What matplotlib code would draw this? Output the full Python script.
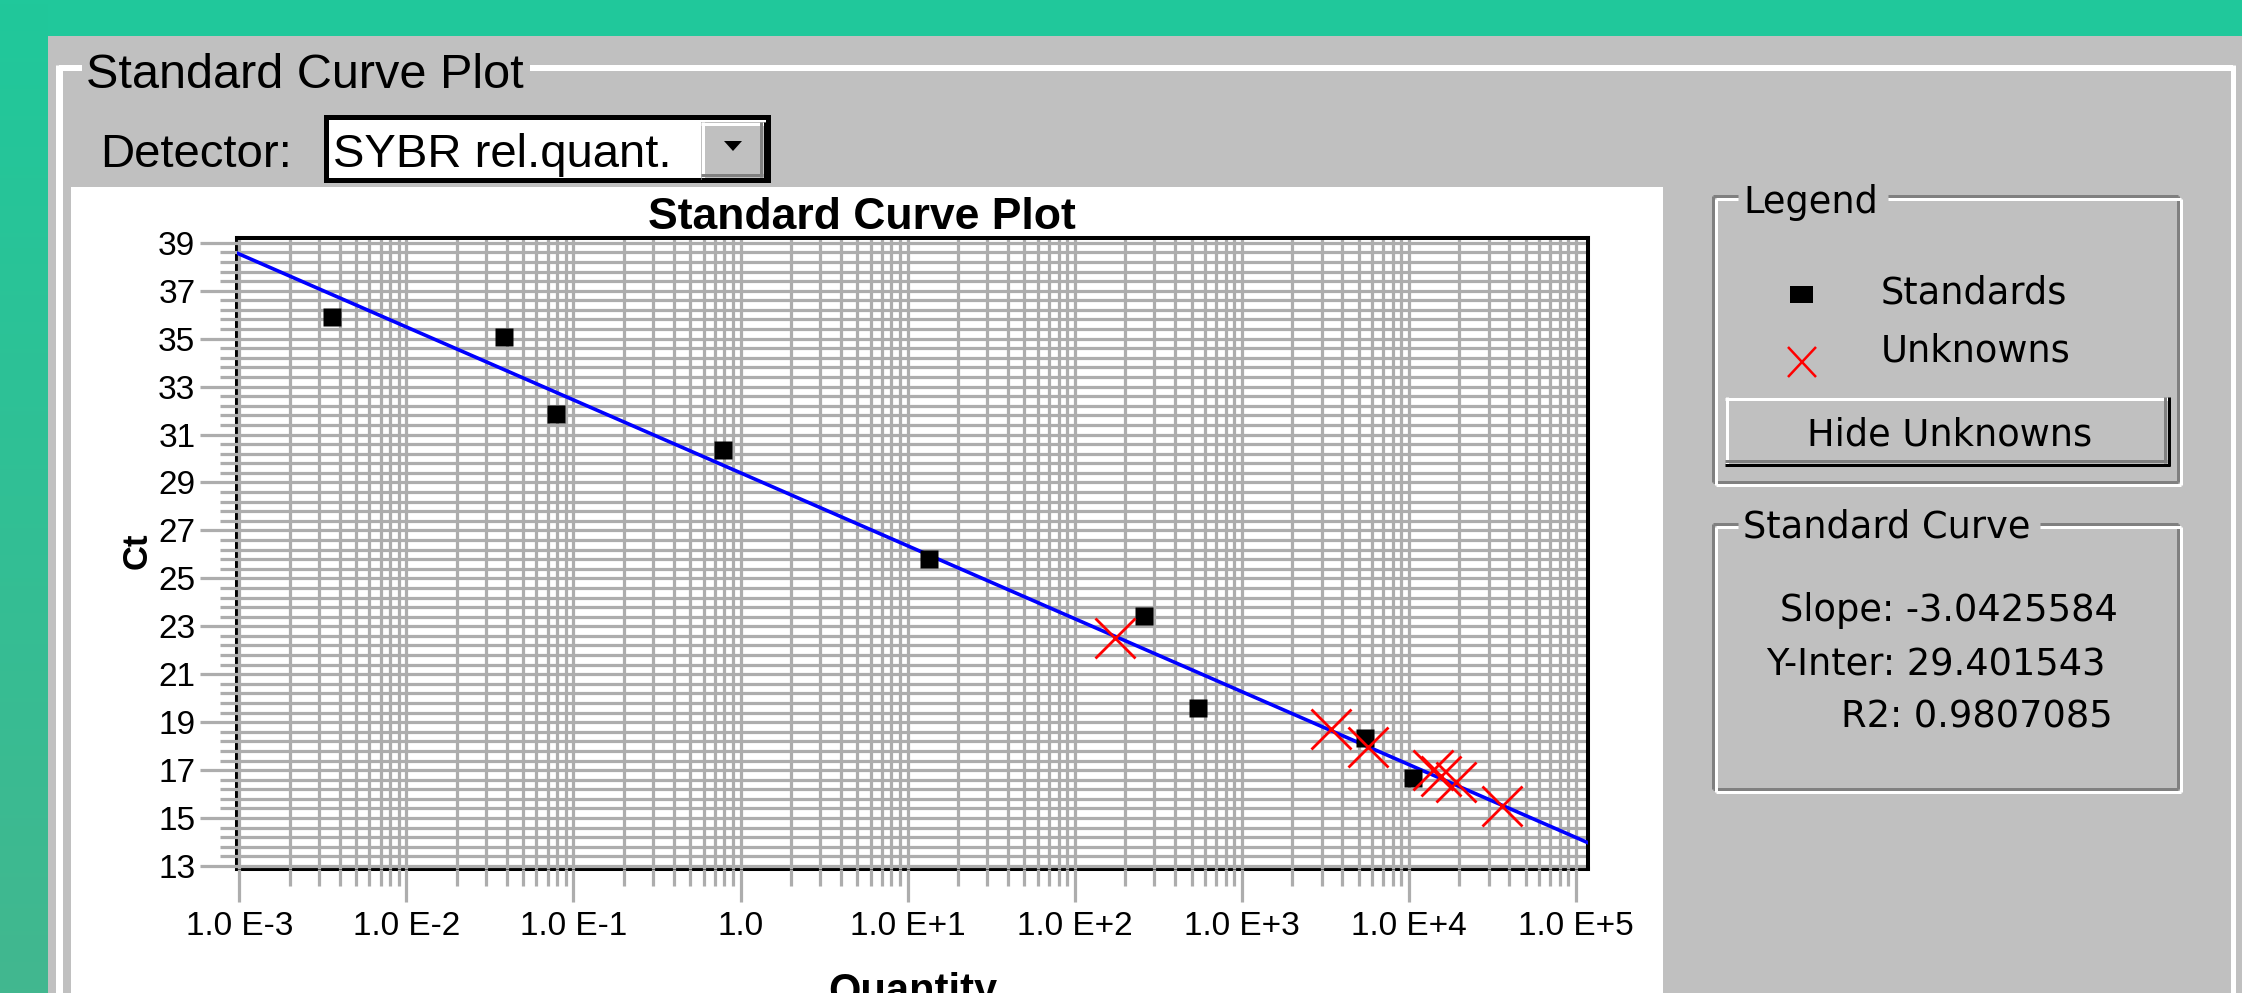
import numpy as np
import matplotlib
matplotlib.use("Agg")
import matplotlib.pyplot as plt
from matplotlib.patches import Rectangle, Polygon
from matplotlib.colors import LinearSegmentedColormap
from matplotlib.ticker import LogLocator, NullFormatter, AutoMinorLocator

# --- data ---
std_qty = [0.00361, 0.0384, 0.0785, 0.785, 13.4, 259, 546, 5460, 10570]
std_ct = [35.92, 35.07, 31.86, 30.36, 25.81, 23.43, 19.59, 18.34, 16.67]
unk_qty = [174, 3410, 5675, 13900, 15670, 19010, 35890]
unk_ct = [22.51, 18.72, 17.96, 17.01, 16.75, 16.50, 15.50]

SLOPE = -3.0425584
INTERCEPT = 29.401543
R2 = 0.9807085

x_ticks = [1e-3, 1e-2, 1e-1, 1, 1e1, 1e2, 1e3, 1e4, 1e5]
x_tick_labels = ["1.0 E-3", "1.0 E-2", "1.0 E-1", "1.0", "1.0 E+1",
                 "1.0 E+2", "1.0 E+3", "1.0 E+4", "1.0 E+5"]
y_ticks = list(range(13, 40, 2))

W, H = 2242, 993
TEAL = "#20c89b"
GRAY = "#c0c0c0"
DARK = "#808080"
GRID = "#adadad"
PX = 0.72  # points per pixel at dpi 100

plt.rcParams["font.family"] = ["Liberation Sans", "DejaVu Sans"]

fig = plt.figure(figsize=(W / 100, H / 100), dpi=100, facecolor=TEAL)

# background "window" drawn in pixel coordinates
bg = fig.add_axes([0, 0, 1, 1], zorder=0)
bg.axis("off")

grad = np.linspace(0, 1, 256).reshape(-1, 1)
cmap = LinearSegmentedColormap.from_list("teal", [TEAL, "#42b78f"])
bg.imshow(grad, extent=(0, 48, H, 0), cmap=cmap, aspect="auto", zorder=0)
bg.set_xlim(0, W)
bg.set_ylim(H, 0)

bg.add_patch(Rectangle((48, 36), W - 48, H - 36, fc=GRAY, ec="none", zorder=1))


def seg(x0, y0, x1, y1, color, px=3, z=2):
    bg.plot([x0, x1], [y0, y1], color=color, lw=px * PX,
            solid_capstyle="butt", zorder=z)


def etched(x0, y0, x1, y1, gap):
    for off, c in ((0, DARK), (3, "white")):
        seg(x0 + off, y0 + off, gap[0], y0 + off, c)
        seg(gap[1], y0 + off, x1 + off, y0 + off, c)
        seg(x0 + off, y0 + off, x0 + off, y1 + off, c)
        seg(x0 + off, y1 + off, x1 + off, y1 + off, c)
        seg(x1 + off, y0 + off, x1 + off, y1 + off, c)


def raised(x0, y0, x1, y1):
    bg.add_patch(Rectangle((x0, y0), x1 - x0, y1 - y0, fc=GRAY, ec="none", zorder=2))
    seg(x0, y0 + 1.5, x1, y0 + 1.5, "white", 3, 3)
    seg(x0 + 1.5, y0, x0 + 1.5, y1, "white", 3, 3)
    seg(x0, y1 - 5, x1 - 3, y1 - 5, DARK, 3, 3)
    seg(x1 - 5, y0, x1 - 5, y1 - 3, DARK, 3, 3)
    seg(x0, y1 - 1.5, x1, y1 - 1.5, "black", 3, 3)
    seg(x1 - 1.5, y0, x1 - 1.5, y1, "black", 3, 3)


# main group box
seg(59, 68, 82, 68, "white", 6)
seg(530, 68, 2233, 68, "white", 6)
seg(59, 65, 59, H, "white", 7)
seg(2233, 65, 2233, H, "white", 5)
bg.text(86, 88, "Standard Curve Plot", fontsize=35, va="baseline", zorder=3)

# detector combo
bg.text(100, 167, "Detector:", fontsize=34, va="baseline", zorder=3)
bg.add_patch(Rectangle((326, 117), 442, 63, fc="white", ec="black",
                       lw=5 * PX, zorder=2))
bg.text(333, 167, "SYBR rel.quant.", fontsize=34, va="baseline", zorder=3)
raised(701, 122, 766, 180)
bg.add_patch(Polygon([(724, 141), (742, 141), (733, 151)], closed=True,
                     fc="black", ec="none", zorder=4))

# white plot panel
bg.add_patch(Rectangle((71, 187), 1663 - 71, H - 187, fc="white", ec="none", zorder=2))

# legend box
RF = "DejaVu Sans"
etched(1713, 196, 2178, 482, (1738, 1888))
bg.text(1743, 213, "Legend", fontsize=26.5, family=RF, va="baseline", zorder=3)
bg.add_patch(Rectangle((1790, 286), 23, 17, fc="black", ec="none", zorder=3))
bg.text(1881, 303, "Standards", fontsize=26.5, family=RF, va="baseline", zorder=3)
seg(1788, 347, 1816, 377, "red", 2.5, 3)
seg(1788, 377, 1816, 347, "red", 2.5, 3)
bg.text(1881, 362, "Unknowns", fontsize=26.5, family=RF, va="baseline", zorder=3)
raised(1725, 397, 2170, 466)
bg.text(1950, 446, "Hide Unknowns", fontsize=26.5, family=RF, ha="center",
        va="baseline", zorder=4)

# standard curve box
etched(1713, 524, 2178, 789, (1738, 2040))
bg.text(1743, 538, "Standard Curve", fontsize=26.5, family=RF, va="baseline", zorder=3)
bg.text(1780, 621, f"Slope: {SLOPE}", fontsize=26.5, family=RF, va="baseline", zorder=3)
bg.text(1766, 675, f"Y-Inter: {INTERCEPT}", fontsize=26.5, family=RF, va="baseline", zorder=3)
bg.text(1841, 728, f"R2: {R2}", fontsize=26.5, family=RF, va="baseline", zorder=3)

# --- the chart ---
ax = fig.add_axes([237 / W, 1 - 869 / H, 1351 / W, 631 / H], zorder=1)
ax.set_facecolor("white")
ax.set_xscale("log")
xlim = (10 ** -3.014, 10 ** 5.072)
ax.set_xlim(*xlim)
ax.set_ylim(12.875, 39.2)

ax.set_xticks(x_ticks)
ax.set_xticklabels(x_tick_labels)
ax.xaxis.set_minor_locator(LogLocator(base=10, subs=range(2, 10), numticks=100))
ax.xaxis.set_minor_formatter(NullFormatter())
ax.set_yticks(y_ticks)
ax.yaxis.set_minor_locator(AutoMinorLocator(5))

ax.set_axisbelow(True)
ax.grid(which="both", color=GRID, lw=2.3)
ax.tick_params(axis="x", which="major", length=24, width=2.3, color=GRID,
               pad=6, labelsize=24)
ax.tick_params(axis="x", which="minor", length=12, width=2.3, color=GRID)
ax.tick_params(axis="y", which="major", length=27, width=2.3, color=GRID,
               pad=3, labelsize=24)
ax.tick_params(axis="y", which="minor", length=12, width=2.3, color=GRID)

for name, sp in ax.spines.items():
    sp.set_color("black")
    sp.set_linewidth(2.9)
    if name in ("left", "bottom"):
        sp.set_zorder(0.4)

fit_x = np.array(xlim)
ax.plot(fit_x, SLOPE * np.log10(fit_x) + INTERCEPT, color="#0000ff", lw=2.6, zorder=3)
ax.plot(std_qty, std_ct, ls="none", marker="s", ms=12.5, mfc="black",
        mec="none", zorder=4)
ax.plot(unk_qty, unk_ct, ls="none", marker="x", ms=29, mew=2.0,
        color="#ff0000", zorder=5)

ax.set_title("Standard Curve Plot", fontsize=32, fontweight="bold",
             x=(862 - 237) / 1351, pad=3.6)
ax.set_xlabel("Quantity", fontsize=30, fontweight="bold")
ax.xaxis.set_label_coords(0.5, (869 - 972) / 631)
ax.set_ylabel("Ct", fontsize=25, fontweight="bold")
ax.yaxis.set_label_coords((154 - 237) / 1351, 0.504)

fig.savefig("out.png", dpi=100, facecolor=TEAL)
